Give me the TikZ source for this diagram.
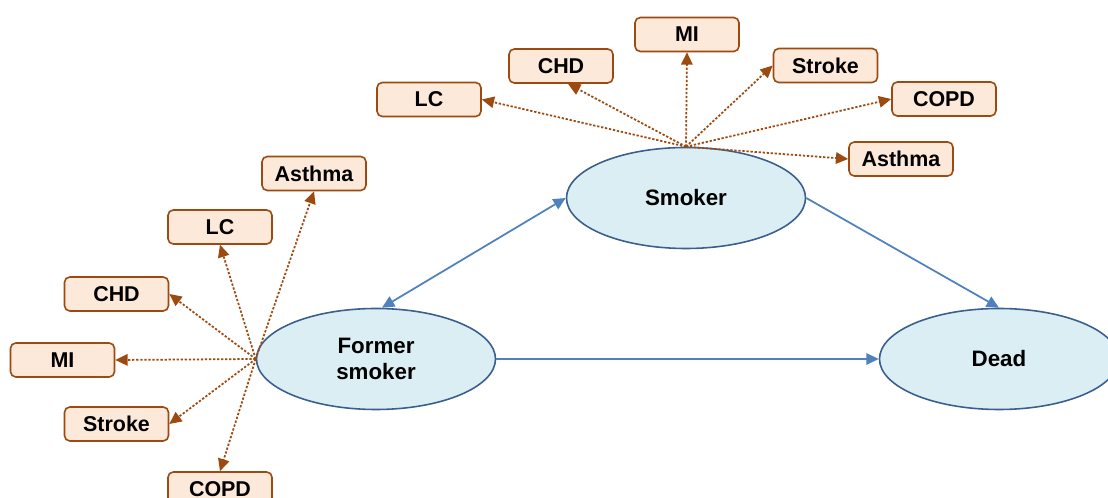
\documentclass[tikz,border=0pt]{standalone}
\usepackage{fontspec}
\setmainfont{Liberation Sans}
\usepackage{tikz}
\usetikzlibrary{arrows.meta,shapes.geometric}
\definecolor{boxfill}{HTML}{FDE9D9}
\definecolor{boxline}{HTML}{9C4A0F}
\definecolor{statefill}{HTML}{DAEEF3}
\definecolor{stateline}{HTML}{3A5F8F}
\definecolor{flow}{HTML}{4F81BD}

\begin{document}
\begin{tikzpicture}
\tikzstyle{state}=[ellipse,draw=stateline,fill=statefill,line width=0.9pt,minimum width=4.78cm,minimum height=2.02cm,align=center,font=\fontsize{12.7}{14.7}\selectfont\bfseries];
\tikzstyle{disease}=[rectangle,rounded corners=3pt,draw=boxline,fill=boxfill,line width=0.9pt,minimum width=2.08cm,minimum height=0.68cm,font=\fontsize{12.2}{14}\selectfont\bfseries];
\tikzstyle{risk}=[-{Triangle[length=7pt,width=6.5pt]},boxline,line width=1pt,dash pattern=on 1.3pt off 1pt];
\tikzstyle{move}=[-{Triangle[length=7pt,width=6.5pt]},flow,line width=1pt];
\clip (0,0) rectangle (22.16,9.96);
\node (S) [state] at (13.72,6.00) {Smoker};
\node (F) [state] at (7.52,2.78) {Former\\smoker};
\node (D) [state] at (19.98,2.78) {Dead};
\node (sLC) [disease] at (8.58,7.97) {LC};
\node (sCHD) [disease] at (11.22,8.64) {CHD};
\node (sMI) [disease] at (13.74,9.27) {MI};
\node (sStroke) [disease] at (16.51,8.65) {Stroke};
\node (sCOPD) [disease] at (18.88,7.98) {COPD};
\node (sAsthma) [disease] at (18.02,6.78) {Asthma};
\node (fAsthma) [disease] at (6.28,6.49) {Asthma};
\node (fLC) [disease] at (4.40,5.42) {LC};
\node (fCHD) [disease] at (2.33,4.08) {CHD};
\node (fMI) [disease] at (1.25,2.76) {MI};
\node (fStroke) [disease] at (2.33,1.48) {Stroke};
\node (fCOPD) [disease] at (4.40,0.18) {COPD};
\draw [risk] (S.north) -- (sLC.east);
\draw [risk] (S.north) -- ([xshift=0.14cm]sCHD.south);
\draw [risk] (S.north) -- (sMI.south);
\draw [risk] (S.north) -- (sStroke.west);
\draw [risk] (S.north) -- (sCOPD.west);
\draw [risk] (S.north) -- (sAsthma.west);
\draw [risk] (F.west) -- (fAsthma.south);
\draw [risk] (F.west) -- (fLC.south);
\draw [risk] (F.west) -- (fCHD.east);
\draw [risk] (F.west) -- (fMI.east);
\draw [risk] (F.west) -- (fStroke.east);
\draw [risk] (F.west) -- (fCOPD.north);
\draw [move,{Triangle[length=7pt,width=6.5pt]}-{Triangle[length=7pt,width=6.5pt]}] ([xshift=0.12cm]F.north) -- (S.west);
\draw [move] (S.east) -- (D.north);
\draw [move] (F.east) -- (D.west);
\end{tikzpicture}
\end{document}
